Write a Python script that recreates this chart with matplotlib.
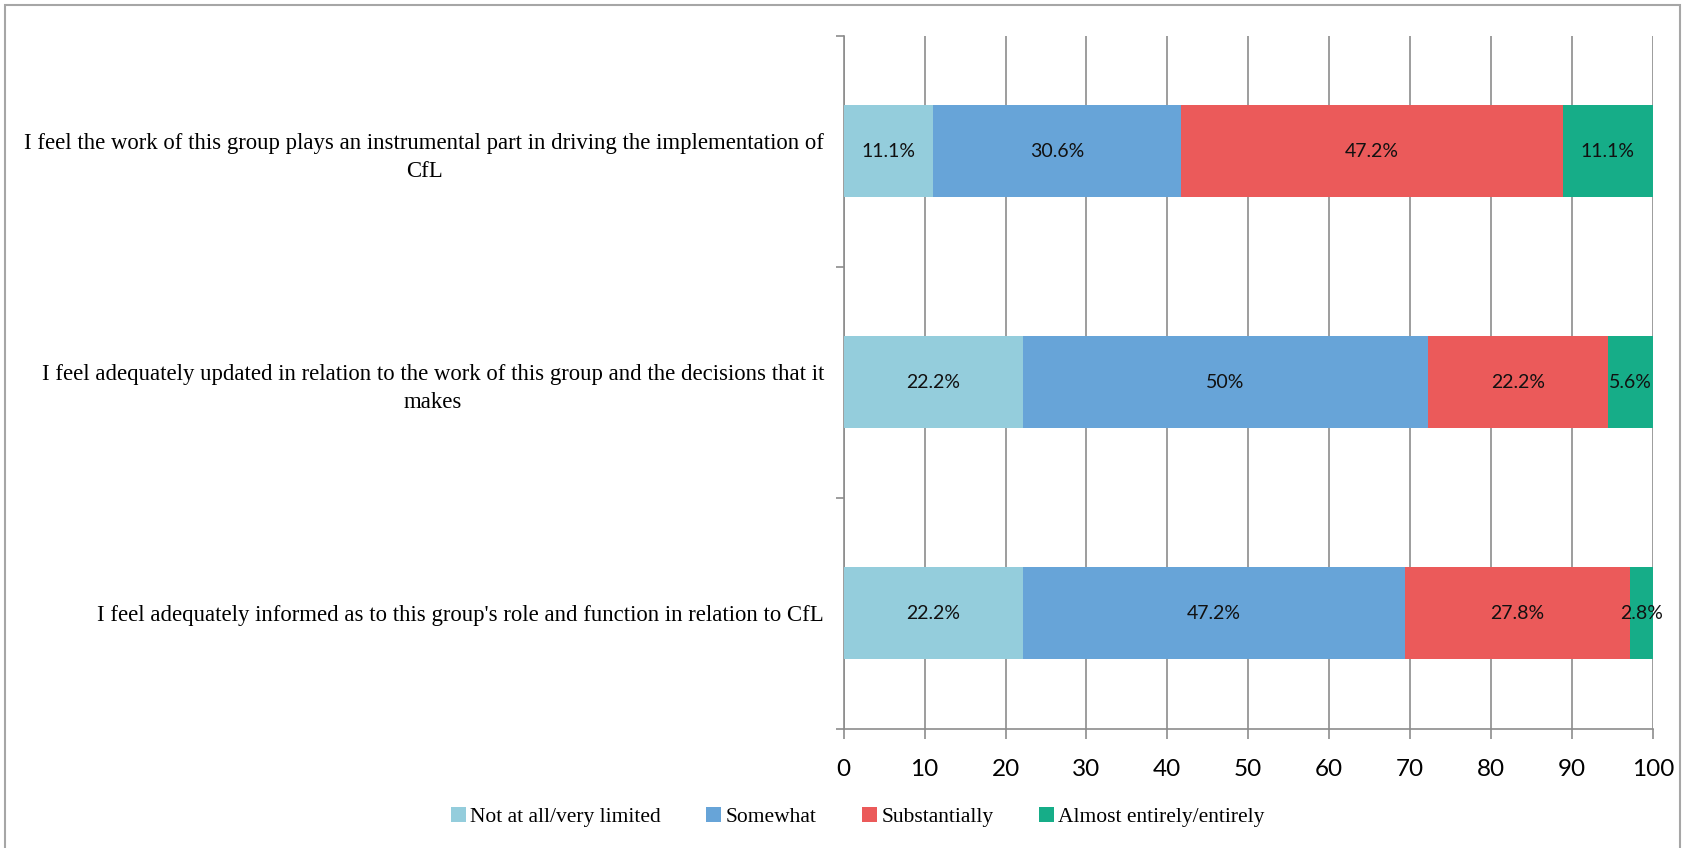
import matplotlib
matplotlib.use("Agg")
import matplotlib.pyplot as plt
from matplotlib.patches import Rectangle

# Survey statements, top to bottom as drawn
statements = [
    "I feel the work of this group plays an instrumental part in driving the implementation of\nCfL",
    "I feel adequately updated in relation to the work of this group and the decisions that it\nmakes",
    "I feel adequately informed as to this group's role and function in relation to CfL",
]
categories = ["Not at all/very limited", "Somewhat", "Substantially", "Almost entirely/entirely"]
colors = ["#94CDDC", "#67A4D8", "#EB5A5A", "#16AD88"]

# percentage of respondents per response, one list per response level
not_at_all = [11.1, 22.2, 22.2]
somewhat = [30.6, 50.0, 47.2]
substantially = [47.2, 22.2, 27.8]
almost_entirely = [11.1, 5.6, 2.8]
series = [not_at_all, somewhat, substantially, almost_entirely]

x_ticks = list(range(0, 101, 10))

grid_col = "#8C8C8C"
serif = ["Liberation Serif", "DejaVu Serif"]
sans = ["Lato", "DejaVu Sans"]

fig = plt.figure(figsize=(16.85, 8.48), dpi=100)
ax = fig.add_axes([0.5007, 0.1408, 0.4802, 0.8173])

# outer frame around the chart area
fig.patches.append(Rectangle((5 / 1685, -0.05), 1675 / 1685, 1.05 - 5 / 848,
                             transform=fig.transFigure, fill=False,
                             edgecolor="#A6A6A6", linewidth=1.5))

ypos = [2, 1, 0]
left = [0.0, 0.0, 0.0]
for vals, col, name in zip(series, colors, categories):
    ax.barh(ypos, vals, left=left, height=0.4, color=col, label=name, zorder=3)
    for y, l, v in zip(ypos, left, vals):
        ax.text(l + v / 2, y, f"{v:g}%", ha="center", va="center",
                fontsize=14, family=sans, color="#111111", zorder=4)
    left = [a + b for a, b in zip(left, vals)]

ax.set_xlim(0, 100)
ax.set_ylim(-0.5, 2.5)
ax.set_xticks(x_ticks)
ax.set_xticklabels([str(t) for t in x_ticks], family=sans, fontsize=17.5)
ax.xaxis.grid(True, color=grid_col, linewidth=1.2, zorder=0)

# boundary ticks on the y axis, statement labels centred on each bar
ax.set_yticks([-0.5, 0.5, 1.5, 2.5])
ax.set_yticklabels([])
ax.set_yticks(ypos, statements, minor=True)
for lab in ax.get_yticklabels(minor=True):
    lab.set_multialignment("center")
    lab.set_linespacing(1.45)
    lab.set_family(serif)
    lab.set_fontsize(16.4)
ax.tick_params(axis="y", which="minor", length=0, pad=14)
ax.tick_params(axis="y", which="major", length=6, color=grid_col, width=1.2)
ax.tick_params(axis="x", length=7, color=grid_col, width=1.2, pad=15)

for side in ["top", "right"]:
    ax.spines[side].set_visible(False)
for side in ["left", "bottom"]:
    ax.spines[side].set_color(grid_col)
    ax.spines[side].set_linewidth(1.2)

fig.legend(loc="center", bbox_to_anchor=(0.509, 0.0366), ncol=4, frameon=False,
           prop={"family": serif, "size": 15.5}, handlelength=0.7,
           handleheight=0.7, handletextpad=0.2, columnspacing=2.1)

fig.savefig("out.png", dpi=100)
